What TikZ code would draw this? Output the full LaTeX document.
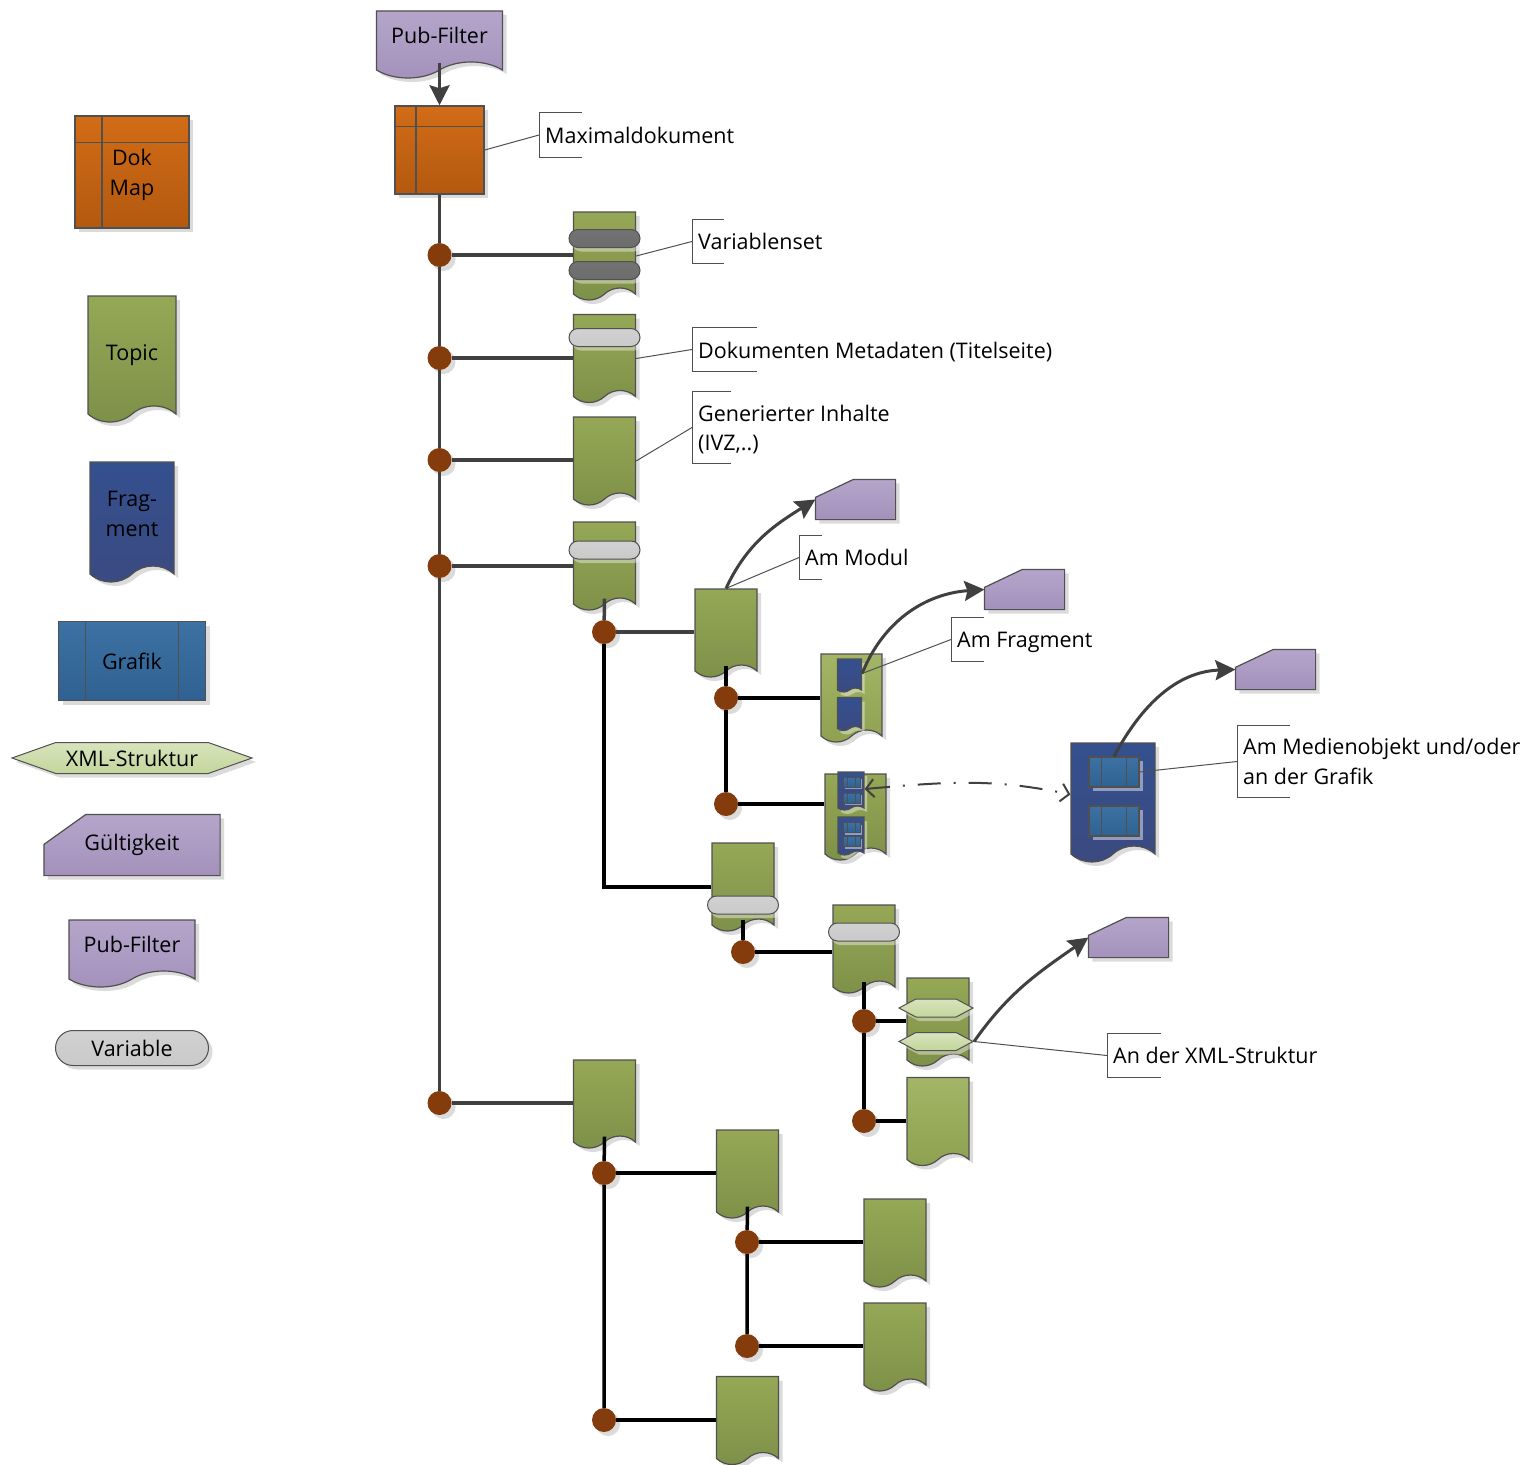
\documentclass[tikz,border=0pt]{standalone}
\usepackage{fontspec}
\setmainfont{Open Sans}
\usetikzlibrary{shapes.geometric, shapes.misc, shapes.symbols, arrows.meta, calc, shadows}
\definecolor{edgegray}{HTML}{505050}
\definecolor{wiregray}{HTML}{404040}
\definecolor{orangetop}{HTML}{D26C17}
\definecolor{orangelow}{HTML}{B3590F}
\definecolor{greentop}{HTML}{95A856}
\definecolor{greenlow}{HTML}{7D9048}
\definecolor{paletop}{HTML}{A3B566}
\definecolor{palelow}{HTML}{8DA151}
\definecolor{navytop}{HTML}{34508F}
\definecolor{navylow}{HTML}{3B4A80}
\definecolor{bluetop}{HTML}{3D71A3}
\definecolor{bluelow}{HTML}{2F6292}
\definecolor{lilactop}{HTML}{B5A5CA}
\definecolor{lilaclow}{HTML}{A391BB}
\definecolor{xmltop}{HTML}{D7E4BD}
\definecolor{xmllow}{HTML}{C3D69B}
\definecolor{joinbrown}{HTML}{843C0C}
\newdimen\boxleft
\newdimen\boxright
\newdimen\boxlow
\newdimen\boxhigh
\newdimen\cutx
\newdimen\cuty
\makeatletter
\pgfdeclareshape{clippedbox}{
    \inheritsavedanchors[from=rectangle]
    \inheritanchorborder[from=rectangle]
    \inheritanchor[from=rectangle]{center}
    \inheritanchor[from=rectangle]{north}
    \inheritanchor[from=rectangle]{south}
    \inheritanchor[from=rectangle]{east}
    \inheritanchor[from=rectangle]{west}
    \backgroundpath{
        \southwest \boxleft=\pgf@x \boxlow=\pgf@y
        \northeast \boxright=\pgf@x \boxhigh=\pgf@y
        \cutx=\boxleft \advance\cutx by \clipx
        \cuty=\boxhigh \advance\cuty by -\clipy
        \pgfpathmoveto{\pgfqpoint{\boxleft}{\boxlow}}
        \pgfpathlineto{\pgfqpoint{\boxright}{\boxlow}}
        \pgfpathlineto{\pgfqpoint{\boxright}{\boxhigh}}
        \pgfpathlineto{\pgfqpoint{\cutx}{\boxhigh}}
        \pgfpathlineto{\pgfqpoint{\boxleft}{\cuty}}
        \pgfpathclose
    }
}
\makeatother
\tikzstyle{softshadow} = [drop shadow={shadow xshift=4pt, shadow yshift=-4pt, fill=black, opacity=0.14}]
\tikzstyle{glow} = [drop shadow={shadow xshift=3pt, shadow yshift=-4pt, fill=white, opacity=0.4}]
\tikzstyle{paper} = [tape, tape bend top=none, tape bend bottom=in and out, draw=edgegray, line width=1.2pt, inner sep=0pt, text centered]
\tikzstyle{bendtiny} = [tape bend height=4pt, yshift=2pt]
\tikzstyle{bendmid} = [tape bend height=12pt, yshift=6pt]
\tikzstyle{bendwide} = [tape bend height=16pt, yshift=8pt]
\tikzstyle{topic} = [paper, top color=greentop, bottom color=greenlow, softshadow]
\tikzstyle{topicsmall} = [topic, bendmid, minimum width=62pt, minimum height=88pt]
\tikzstyle{topicpale} = [paper, bendmid, top color=paletop, bottom color=palelow, softshadow, minimum width=62pt, minimum height=88pt]
\tikzstyle{fragment} = [paper, top color=navytop, bottom color=navylow]
\tikzstyle{fragmentsmall} = [fragment, bendtiny, glow, minimum width=24pt, minimum height=33pt]
\tikzstyle{fragmenttiny} = [fragment, bendtiny, glow, minimum width=26pt, minimum height=38pt]
\tikzstyle{filter} = [paper, bendwide, top color=lilactop, bottom color=lilaclow, softshadow, minimum width=126pt, minimum height=67pt, text depth=2pt]
\tikzstyle{dokmap} = [rectangle, draw=edgegray, line width=1.5pt, top color=orangetop, bottom color=orangelow, softshadow, align=center, inner sep=0pt, path picture={
        \draw[edgegray, line width=1.5pt] ($(path picture bounding box.north west)!0.235!(path picture bounding box.north east)$) -- ($(path picture bounding box.south west)!0.235!(path picture bounding box.south east)$);
        \draw[edgegray, line width=1.5pt] ($(path picture bounding box.north west)!0.235!(path picture bounding box.south west)$) -- ($(path picture bounding box.north east)!0.235!(path picture bounding box.south east)$);
    }]
\tikzstyle{grafik}[0.185] = [rectangle, draw=edgegray, line width=1.2pt, top color=bluetop, bottom color=bluelow, inner sep=0pt, path picture={
        \draw[edgegray, line width=1.3pt] ($(path picture bounding box.north west)!#1!(path picture bounding box.north east)$) -- ($(path picture bounding box.south west)!#1!(path picture bounding box.south east)$);
        \draw[edgegray, line width=1.3pt] ($(path picture bounding box.north east)!#1!(path picture bounding box.north west)$) -- ($(path picture bounding box.south east)!#1!(path picture bounding box.south west)$);
    }]
\tikzstyle{grafikmid} = [grafik=0.25, minimum width=50pt, minimum height=30pt, drop shadow={shadow xshift=4pt, shadow yshift=-4pt, fill=white, opacity=0.45}]
\tikzstyle{grafiktiny} = [grafik=0.25, line width=0.8pt, minimum width=17pt, minimum height=10pt, drop shadow={shadow xshift=2pt, shadow yshift=-2pt, fill=white, opacity=0.45}]
\tikzstyle{xmlhex} = [signal, signal to=west and east, draw=edgegray, line width=1pt, top color=xmltop, bottom color=xmllow, inner sep=0pt]
\tikzstyle{xmlsmall} = [xmlhex, signal pointer angle=56, minimum width=74pt, minimum height=18pt, glow]
\tikzstyle{validity} = [clippedbox, draw=edgegray, line width=1.2pt, top color=lilactop, bottom color=lilaclow, softshadow, inner sep=0pt]
\tikzstyle{validitysmall} = [validity, minimum width=79pt, minimum height=39pt, /utils/exec={\def\clipx{38pt}\def\clipy{18pt}}]
\tikzstyle{varpill} = [rounded rectangle, draw=edgegray, line width=1pt, top color=gray!36, bottom color=gray!42, inner sep=0pt]
\tikzstyle{varsmall} = [varpill, glow, minimum width=71pt, minimum height=18pt]
\tikzstyle{vardark} = [varsmall, top color=gray!90!black, bottom color=gray!85!black]
\tikzstyle{joindot} = [circle, fill=joinbrown, draw=none, minimum size=24pt, inner sep=0pt, softshadow]
\tikzstyle{note}[40] = [rectangle, align=left, anchor=west, inner xsep=6pt, inner ysep=0pt, minimum height=44pt, append after command={\pgfextra{\draw[edgegray, line width=1pt] ([xshift=#1pt]\tikzlastnode.north west) -- (\tikzlastnode.north west) -- (\tikzlastnode.south west) -- ([xshift=#1pt]\tikzlastnode.south west);}}]
\tikzstyle{leader} = [edgegray, line width=1pt]
\tikzstyle{wire} = [wiregray, line width=3.5pt]
\tikzstyle{blackwire} = [black, line width=3.5pt]
\tikzstyle{arrow} = [wiregray, line width=3pt, -{Stealth[length=20pt, width=20pt, inset=3pt]}]
\tikzstyle{linkarrow} = [wiregray, line width=2pt, dash pattern=on 23pt off 13pt on 2pt off 13pt, {Straight Barb[length=8pt, width=18pt]}-{Straight Barb[length=8pt, width=18pt]}]

\begin{document}
\begin{tikzpicture}[x=1pt, y=-1pt, font=\fontsize{21.5}{29.5}\selectfont]
        \useasboundingbox (0,0) rectangle (1538,1464);

        % legend
        \node (lgmap) [dokmap, minimum width=114pt, minimum height=112pt] at (132,172) {\rule{0pt}{22pt}Dok\\Map};
        \node (lgtopic) [topic, bendwide, text height=24pt, minimum width=88pt, minimum height=126pt] at (132,359) {Topic};
        \node (lgfrag) [fragment, bendwide, softshadow, minimum width=84pt, minimum height=120pt, align=center] at (132,522) {Frag-\\ment};
        \node (lggrafik) [grafik, softshadow, minimum width=147pt, minimum height=79pt] at (132,661) {Grafik};
        \node (lgxml) [xmlhex, softshadow, signal pointer angle=39, minimum width=240pt, minimum height=31pt] at (132,758) {XML-Struktur};
        \node (lgvalid) [validity, minimum width=175pt, minimum height=60pt, /utils/exec={\def\clipx{42pt}\def\clipy{30pt}}] at (132,845) {Gültigkeit};
        \node (lgfilter) [filter] at (132,953.5) {Pub-Filter};
        \node (lgvar) [varpill, softshadow, minimum width=153pt, minimum height=35pt] at (132,1048) {Variable};

        % main tree
        \node (pubfilter) [filter] at (439.5,44.5) {Pub-Filter};
        \node (maxdoc) [dokmap, minimum width=89pt, minimum height=88pt] at (439.5,150) {};
        \node (varset) [topicsmall] at (604.5,256) {};
        \node (varseta) [vardark] at (604.5,238.5) {};
        \node (varsetb) [vardark] at (604.5,270.5) {};
        \node (meta) [topicsmall] at (604.5,358.5) {};
        \node (metavar) [varsmall] at (604.5,337.5) {};
        \node (generated) [topicsmall] at (604.5,461) {};
        \node (content) [topicsmall] at (604.5,566) {};
        \node (contentvar) [varsmall] at (604.5,550) {};
        \node (module) [topicsmall] at (726,633) {};
        \node (holdera) [topicpale, minimum width=61pt] at (851.5,698) {};
        \node (holderafrag) [fragmentsmall] at (849.5,675.5) {};
        \node (holderbfrag) [fragmentsmall] at (849.5,714) {};
        \node (holderb) [topicsmall, minimum width=61pt, minimum height=86pt] at (855.5,817) {};
        \node (tinyfraga) [fragmenttiny] at (851,791) {};
        \node (tinyfragb) [fragmenttiny] at (851,836) {};
        \node (tinygrafa) [grafiktiny] at (851.5,782) {};
        \node (tinygrafb) [grafiktiny] at (851.5,798) {};
        \node (tinygrafc) [grafiktiny] at (851.5,827.5) {};
        \node (tinygrafd) [grafiktiny] at (851.5,841.5) {};
        \node (bigfrag) [fragment, bendwide, softshadow, minimum width=84pt, minimum height=119pt] at (1113,802.5) {};
        \node (bigfrafa) [grafikmid] at (1114,772) {};
        \node (bigfrafb) [grafikmid] at (1114,821) {};
        \node (section) [topicsmall] at (743,887) {};
        \node (sectionvar) [varsmall] at (743,905) {};
        \node (subsec) [topicsmall] at (864,949) {};
        \node (subsecvar) [varsmall] at (864,932) {};
        \node (xmldoc) [topicsmall] at (938,1022) {};
        \node (xmla) [xmlsmall] at (936,1008) {};
        \node (xmlb) [xmlsmall] at (936,1041.5) {};
        \node (plaindoc) [topicpale] at (938,1121.5) {};
        \node (lower) [topicsmall] at (604.5,1104) {};
        \node (lowera) [topicsmall] at (747.5,1174) {};
        \node (lowerb) [topicsmall] at (895,1243) {};
        \node (lowerc) [topicsmall] at (895,1347) {};
        \node (lowerd) [topicsmall] at (747.5,1420.5) {};

        \node (validmodul) [validitysmall] at (855.5,499.5) {};
        \node (validfrag) [validitysmall] at (1024.5,589.5) {};
        \node (validgrafik) [validitysmall] at (1275.5,669.5) {};
        \node (validxml) [validitysmall] at (1128.5,937.5) {};

        % junctions
        \node (joina) [joindot] at (439.5,255) {};
        \node (joinb) [joindot] at (439.5,358) {};
        \node (joinc) [joindot] at (439.5,460) {};
        \node (joind) [joindot] at (439.5,566) {};
        \node (joine) [joindot] at (439.5,1103) {};
        \node (joinf) [joindot] at (604,632) {};
        \node (joing) [joindot] at (726,698) {};
        \node (joinh) [joindot] at (726,804) {};
        \node (joini) [joindot] at (743,952) {};
        \node (joinj) [joindot] at (864,1021) {};
        \node (joink) [joindot] at (864,1121) {};
        \node (joinl) [joindot] at (604,1173) {};
        \node (joinm) [joindot] at (747,1242) {};
        \node (joinn) [joindot] at (747,1346) {};
        \node (joino) [joindot] at (604,1420) {};
        \coordinate (elbow) at (604,887);

        % labels
        \node (notemax) [note=43] at (539,135) {Maximaldokument};
        \node (notevar) [note=32] at (692,241.5) {Variablenset};
        \node (notemeta) [note=65, text height=21pt] at (692,349.5) {Dokumenten Metadaten (Titelseite)};
        \node (notegen) [note=39, minimum height=71pt] at (692,427.5) {\rule{0pt}{20pt}Generierter Inhalte\\(IVZ,..)};
        \node (notemod) [note=23] at (799,557.5) {Am Modul};
        \node (notefrag) [note=33, text height=22pt] at (951,639.5) {Am Fragment};
        \node (notegraf) [note=53, minimum height=71pt] at (1237,761.5) {Am Medienobjekt und/oder\\an der Grafik};
        \node (notexml) [note=54] at (1107,1055.5) {An der XML-Struktur};

        \draw[leader] (maxdoc.east) -- (notemax.west);
        \draw[leader] ([yshift=-6pt]varset.east) -- (notevar.west);
        \draw[leader] ([yshift=-6pt]meta.east) -- (notemeta.west);
        \draw[leader] ([yshift=-6pt]generated.east) -- (notegen.west);
        \draw[leader] (module.north) -- (notemod.west);
        \draw[leader] (holderafrag.east) -- (notefrag.west);
        \draw[leader] (bigfrafa.east) -- (notegraf.west);
        \draw[leader] (xmlb.east) -- (notexml.west);

        \draw[arrow] (pubfilter.south) -- (maxdoc.north);
        \draw[wire] (maxdoc.south) -- (joina) -- (joinb) -- (joinc) -- (joind) -- (joine);
        \draw[wire] (joina) -- (joina -| varset.west);
        \draw[wire] (joinb) -- (joinb -| meta.west);
        \draw[wire] (joinc) -- (joinc -| generated.west);
        \draw[wire] (joind) -- (joind -| content.west);
        \draw[wire] (joine) -- (joine -| lower.west);
        \draw[wire] (content.south) -- (joinf);
        \draw[wire] (joinf) -- (joinf -| module.west);
        \draw[blackwire] (joinf) -- (elbow) -- (elbow -| section.west);
        \draw[blackwire] (module.south) -- (joing) -- (joinh);
        \draw[blackwire] (joing) -- (joing -| holdera.west);
        \draw[blackwire] (joinh) -- (joinh -| holderb.west);
        \draw[blackwire] (section.south) -- (joini);
        \draw[blackwire] (joini) -- (joini -| subsec.west);
        \draw[blackwire] (subsec.south) -- (joinj) -- (joink);
        \draw[blackwire] (joinj) -- (joinj -| xmldoc.west);
        \draw[blackwire] (joink) -- (joink -| plaindoc.west);
        \draw[blackwire] (lower.south) -- (joinl) -- (joino);
        \draw[blackwire] (joinl) -- (joinl -| lowera.west);
        \draw[blackwire] (joino) -- (joino -| lowerd.west);
        \draw[blackwire] (lowera.south) -- (joinm) -- (joinn);
        \draw[blackwire] (joinm) -- (joinm -| lowerb.west);
        \draw[blackwire] (joinn) -- (joinn -| lowerc.west);

        \draw[arrow] (module.north) to[out=65, in=212] (validmodul.west);
        \draw[arrow] (holderafrag.east) to[out=68, in=184] (validfrag.west);
        \draw[arrow] (bigfrafa.north) to[out=62, in=182] (validgrafik.west);
        \draw[arrow] (xmlb.east) to[out=55, in=215] (validxml.west);
        \draw[linkarrow] (tinyfraga.east) to[out=5, in=168] (bigfrag.west);
    \end{tikzpicture}
\end{document}
